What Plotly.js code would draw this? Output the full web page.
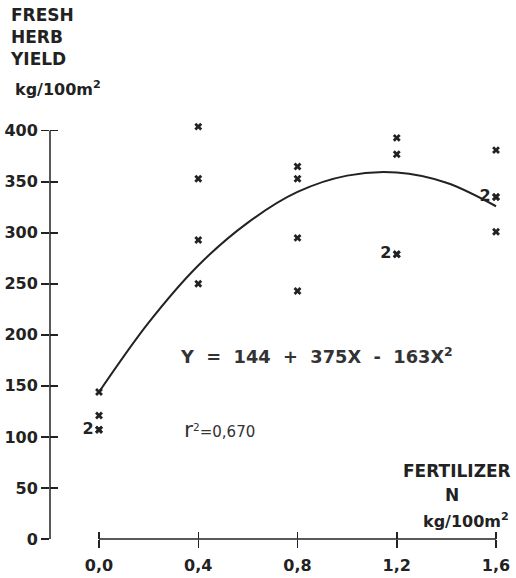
<!DOCTYPE html>
<html>
<head>
<meta charset="utf-8">
<script src="https://cdn.plot.ly/plotly-3.0.1.min.js"></script>
<style>
  html, body { margin: 0; padding: 0; background: #ffffff; }
  #chart { width: 516px; height: 578px; }
</style>
</head>
<body>
<div id="chart"></div>
<script>
// ---- data ----
const pointsX = [0, 0, 0, 0, 0.4, 0.4, 0.4, 0.4, 0.8, 0.8, 0.8, 0.8, 1.2, 1.2, 1.2, 1.2, 1.6, 1.6, 1.6, 1.6];
const pointsY = [144, 121, 107, 107, 404, 353, 293, 250, 365, 353, 295, 243, 393, 377, 279, 279, 381, 335, 335, 301];
const pointLabels = ["", "", "2", "", "", "", "", "", "", "", "", "", "", "", "2", "", "", "2", "", ""];

const curveX = [0, 0.2, 0.4, 0.6, 0.8, 1.0, 1.2, 1.4, 1.6];
const curveY = [144, 212, 268, 310, 340, 356, 359, 349, 326];

const xTickVals = [0, 0.4, 0.8, 1.2, 1.6];
const xTickText = ["0,0", "0,4", "0,8", "1,2", "1,6"];
const yTickVals = [0, 50, 100, 150, 200, 250, 300, 350, 400];
const yTickText = ["0", "50", "100", "150", "200", "250", "300", "350", "400"];

const titleText = "FRESH<br>HERB<br>YIELD";
const yUnitText = "kg/100m<sup>2</sup>";
const equationText = "Y\u00a0\u00a0=\u00a0\u00a0144\u00a0\u00a0+\u00a0\u00a0375X\u00a0\u00a0-\u00a0\u00a0163X<sup>2</sup>";
const r2Text = "<span style=\"font-size:22px\">r</span><sup>2</sup>=0,670";
const xTitleLines = ["FERTILIZER", "N", "kg/100m<sup>2</sup>"];

// ---- styling ----
const INK = "#222222";
const FONT = "DejaVu Sans";
const xRange = [-0.1975, 1.6564];
const yRange = [0, 410.5];

const traces = [
  {
    x: curveX, y: curveY, type: "scatter", mode: "lines",
    line: { color: INK, width: 2, shape: "spline", smoothing: 1 },
    hoverinfo: "skip", showlegend: false
  },
  {
    x: pointsX, y: pointsY, type: "scatter", mode: "markers+text",
    text: pointLabels, textposition: "middle left",
    textfont: { family: FONT, size: 16, weight: "bold", color: INK },
    marker: { symbol: "x", size: 7, color: INK, line: { width: 0 } },
    cliponaxis: false, showlegend: false
  },
  {
    // carrier trace so the overlay axes (crossing tick marks) get drawn; invisible
    x: [xTickVals[0]], y: [yTickVals[0]], xaxis: "x2", yaxis: "y2",
    type: "scatter", mode: "markers", marker: { opacity: 0, size: 1 },
    hoverinfo: "skip", showlegend: false
  }
];

const tickFont = { family: FONT, size: 16, weight: "bold", color: INK };

const layout = {
  width: 516, height: 578,
  margin: { l: 50, r: 6, t: 120, b: 39, pad: 0 },
  paper_bgcolor: "#ffffff", plot_bgcolor: "rgba(0,0,0,0)",
  showlegend: false,
  xaxis: {
    range: xRange, tickvals: xTickVals, ticktext: xTickText,
    ticks: "outside", ticklen: 8, tickwidth: 1.5, tickcolor: INK,
    showline: false, showgrid: false, zeroline: false,
    tickfont: tickFont, ticklabelstandoff: 4, fixedrange: true
  },
  yaxis: {
    range: yRange, tickvals: yTickVals, ticktext: yTickText,
    ticks: "outside", ticklen: 8, tickwidth: 1.5, tickcolor: INK,
    showline: false, showgrid: false, zeroline: false,
    tickfont: tickFont, fixedrange: true
  },
  xaxis2: {
    overlaying: "x", anchor: "y2", side: "bottom", range: xRange,
    tickvals: xTickVals, ticks: "inside", ticklen: 7, tickwidth: 1.5, tickcolor: INK,
    showticklabels: false, showline: false, showgrid: false, zeroline: false, fixedrange: true
  },
  yaxis2: {
    overlaying: "y", anchor: "x2", side: "left", range: yRange,
    tickvals: yTickVals, ticks: "inside", ticklen: 8, tickwidth: 1.5, tickcolor: INK,
    showticklabels: false, showline: false, showgrid: false, zeroline: false, fixedrange: true
  },
  shapes: [
    { type: "line", xref: "paper", yref: "y", x0: 0, x1: 0,
      y0: yTickVals[0], y1: yTickVals[yTickVals.length - 1], line: { color: INK, width: 1.5 } },
    { type: "line", xref: "x", yref: "paper", y0: 0, y1: 0,
      x0: xTickVals[0], x1: xTickVals[xTickVals.length - 1], line: { color: INK, width: 1.5 } }
  ],
  annotations: [
    { text: titleText, xref: "paper", yref: "paper", x: -0.0913, y: 1.2798,
      xanchor: "left", yanchor: "top", align: "left", showarrow: false,
      font: { family: FONT, size: 17, weight: "bold", color: INK } },
    { text: yUnitText, xref: "paper", yref: "paper", x: -0.0804, y: 1.074,
      xanchor: "left", yanchor: "middle", showarrow: false,
      font: { family: FONT, size: 16, weight: "bold", color: INK } },
    { text: equationText, xref: "paper", yref: "paper", x: 0.2780, y: 0.439,
      xanchor: "left", yanchor: "middle", showarrow: false,
      font: { family: FONT, size: 17.8, weight: "bold", color: "#333333" } },
    { text: r2Text, xref: "paper", yref: "paper", x: 0.287, y: 0.262,
      xanchor: "left", yanchor: "middle", showarrow: false,
      font: { family: FONT, size: 15, color: "#333333" } },
    { text: xTitleLines[0], xref: "paper", yref: "paper", x: 1.0065, y: 0.162,
      xanchor: "right", yanchor: "middle", showarrow: false,
      font: { family: FONT, size: 17, weight: "bold", color: INK } },
    { text: xTitleLines[1], xref: "paper", yref: "paper", x: 0.874, y: 0.105,
      xanchor: "center", yanchor: "middle", showarrow: false,
      font: { family: FONT, size: 17, weight: "bold", color: INK } },
    { text: xTitleLines[2], xref: "paper", yref: "paper", x: 0.904, y: 0.043,
      xanchor: "center", yanchor: "middle", showarrow: false,
      font: { family: FONT, size: 16, weight: "bold", color: INK } }
  ]
};

Plotly.newPlot("chart", traces, layout, { staticPlot: true, displayModeBar: false });
</script>
</body>
</html>
